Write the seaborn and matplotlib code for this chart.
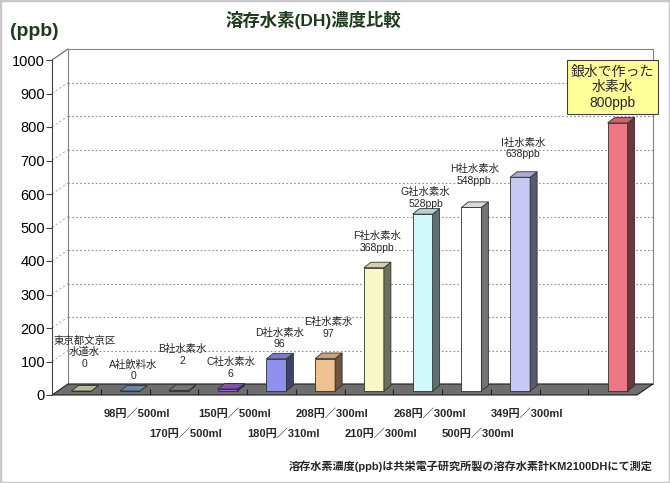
import numpy as np
import pandas as pd
import seaborn as sns
import matplotlib.pyplot as plt
from matplotlib.patches import Polygon, Rectangle
from matplotlib.colors import to_rgb
from matplotlib.transforms import ScaledTranslation, blended_transform_factory

# dados
nomes = ["東京都文京区\n水道水", "A社飲料水", "B社水素水", "C社水素水", "D社水素水",
         "E社水素水", "F社水素水", "G社水素水", "H社水素水", "I社水素水", "銀水で作った\n水素水"]
ppb = [0, 0, 2, 6, 96, 97, 368, 528, 548, 638, 800]
precos = ["", "98円／500ml", "170円／500ml", "150円／500ml", "180円／310ml", "208円／300ml",
          "210円／300ml", "268円／300ml", "500円／300ml", "349円／300ml", ""]
cores = ["#e4e4a8", "#6c9cd8", "#8c8c8c", "#9b50d8", "#8080ff", "#ffc080",
         "#ffffc0", "#ccffff", "#ffffff", "#c0c0ff", "#ff6670"]
# altura (ppb) onde fica cada rótulo acima da barra
rotulo_y = [78, 42, 87, 48, 137, 167, 424, 555, 624, 704]

titulo = "溶存水素(DH)濃度比較"
nota = "溶存水素濃度(ppb)は共栄電子研究所製の溶存水素計KM2100DHにて測定"

sns.set_theme(style="white")
plt.rcParams['font.family'] = ['Liberation Sans', 'Noto Sans CJK JP']

fig = plt.figure(figsize=(6.7, 4.83), dpi=100)
ax = fig.add_axes([52 / 670, 88 / 483, 585 / 670, 335 / 483])

ordem = nomes[:10] + [" "] + nomes[10:]
df = pd.DataFrame({"nome": nomes, "ppb": ppb})
sns.barplot(data=df, x="nome", y="ppb", hue="nome", order=ordem, hue_order=nomes,
            palette=cores, width=20 / 48.75, legend=False, edgecolor="#303030",
            linewidth=0.6, ax=ax, zorder=3)

ax.set_xlim(-0.5, 11.5)
ax.set_ylim(0, 1000)
ax.patch.set_visible(False)

# pixels -> unidades de dados
ux = 12 / 585
uy = 1000 / 335
wx, wy = 16 * ux, 11 * uy   # profundidade da parede
dx, dy = 7 * ux, 5.5 * uy   # profundidade das barras

# parede de fundo, chão e grade
ax.add_patch(Rectangle((-0.5 + wx, wy), 12, 1000, fc="white", ec="#808080", lw=0.8,
                       zorder=0.5, clip_on=False))
ax.add_patch(Polygon([(-0.5, 0), (11.5, 0), (11.5 + wx, wy), (-0.5 + wx, wy)],
                     closed=True, fc="#6e6e6e", ec="#202020", lw=0.8, zorder=1, clip_on=False))
for v in range(100, 1000, 100):
    ax.plot([-0.5 + wx, 11.5 + wx], [v + wy, v + wy], ls=(0, (1.5, 2)), color="#8c8c8c",
            lw=0.8, zorder=0.8, clip_on=False)
    ax.plot([-0.5, -0.5 + wx], [v, v + wy], ls=(0, (2, 2)), color="#b4b4b4", lw=0.8,
            zorder=0.8, clip_on=False)
ax.plot([-0.5, -0.5 + wx], [1000, 1000 + wy], color="#606060", lw=0.8, clip_on=False)
ax.vlines(np.arange(0.5, 11.5, 1), 0, 6 * uy, color="#202020", lw=0.8, zorder=1.2)

# efeito 3D nas barras
desloc = ax.transData + ScaledTranslation(5 / 100, 4 / 100, fig.dpi_scale_trans)
for p in list(ax.patches):
    if not hasattr(p, "get_height") or p.get_zorder() != 3:
        continue
    x0, w, h = p.get_x(), p.get_width(), p.get_height()
    rgb = np.array(to_rgb(p.get_facecolor()))
    p.set_transform(desloc)
    p.set_clip_on(False)
    lado = Polygon([(x0 + w, 0), (x0 + w + dx, dy), (x0 + w + dx, h + dy), (x0 + w, h)],
                   closed=True, fc=rgb * 0.45, ec="#303030", lw=0.6, transform=desloc,
                   zorder=3, clip_on=False)
    topo = Polygon([(x0, h), (x0 + w, h), (x0 + w + dx, h + dy), (x0 + dx, h + dy)],
                   closed=True, fc=rgb * 0.85, ec="#303030", lw=0.6, transform=desloc,
                   zorder=3, clip_on=False)
    ax.add_patch(lado)
    ax.add_patch(topo)

# rótulos das barras
tr_rot = ax.transData + ScaledTranslation(8 / 100, 0, fig.dpi_scale_trans)
for i in range(10):
    txt = f"{nomes[i]}\n{ppb[i]}" + ("ppb" if ppb[i] > 300 else "")
    ax.text(i, rotulo_y[i], txt, ha="center", va="bottom", fontsize=7.5,
            linespacing=1.2, transform=tr_rot, zorder=5)

ax.text(11, 919, f"{nomes[10]}\n{ppb[10]}ppb", ha="center",
        va="center", fontsize=10, linespacing=1.15, zorder=6,
        bbox=dict(boxstyle="square,pad=0.3", fc="#ffff99", ec="#404040", lw=0.8))

# preços em duas linhas
tr_preco = blended_transform_factory(ax.transData, ax.transAxes) + \
    ScaledTranslation(12 / 100, 0, fig.dpi_scale_trans)
for k, preco in enumerate(precos):
    if not preco:
        continue
    y = -19 / 335 if k % 2 == 1 else -39 / 335
    ax.text(k, y, preco, ha="center", va="center", fontsize=8, fontweight="bold",
            transform=tr_preco)

# eixos
sns.despine(ax=ax, left=False, bottom=True, right=True, top=True)
ax.spines["left"].set_color("#404040")
ax.spines["left"].set_linewidth(0.8)
ax.set_yticks(range(0, 1001, 100))
ax.tick_params(axis="y", left=True, length=4, width=0.8, color="#404040",
               labelsize=10.5, pad=1, labelcolor="black")
ax.tick_params(axis="x", bottom=False, labelbottom=False)
ax.set_xlabel("")
ax.set_ylabel("")

fig.text(313 / 670, 1 - 20 / 483, titulo, ha="center", va="center", fontsize=12.5,
         fontweight="bold", color="#1e3a1e")
fig.text(10 / 670, 1 - 32 / 483, "(ppb)", ha="left", va="center", fontsize=14,
         fontweight="bold", color="#1e3a1e")
fig.text(653 / 670, 1 - 466 / 483, nota, ha="right", va="center", fontsize=8,
         fontweight="bold")
fig.patches.append(Rectangle((0, 0), 1, 1, transform=fig.transFigure, fill=False,
                             ec="#c8c8c8", lw=2.5))

fig.savefig("out.png", dpi=100)
